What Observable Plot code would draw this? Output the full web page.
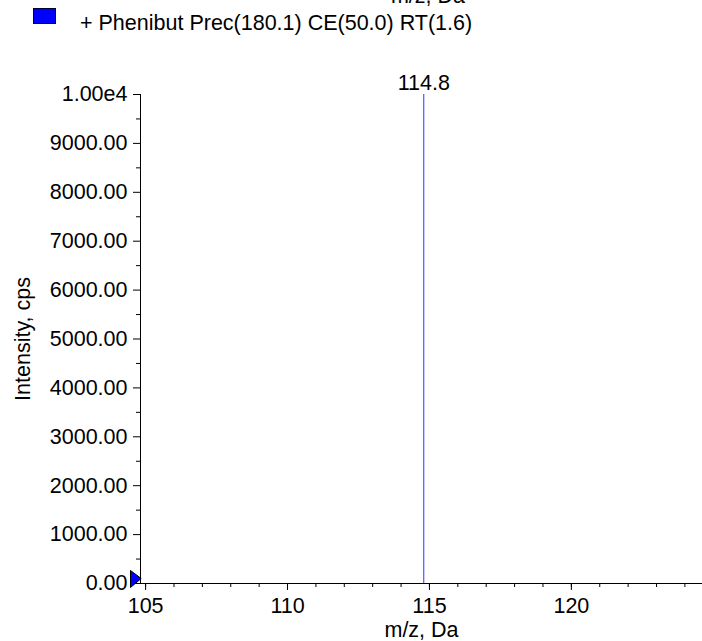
<!DOCTYPE html>
<html>
<head>
<meta charset="utf-8">
<script src="https://cdn.jsdelivr.net/npm/d3@7"></script>
<script src="https://cdn.jsdelivr.net/npm/@observablehq/plot@0.6"></script>
<style>
  html, body { margin: 0; padding: 0; background: #fff; }
  #chart { position: relative; width: 702px; height: 641px; overflow: hidden; }
</style>
</head>
<body>
<div id="chart"></div>
<script>
// ---- data ----
const peakMz = [114.8];
const peakIntensity = [10000];
const peakLabels = ["114.8"];
const xDomain = [104.82, 124.62];
const yDomain = [0, 10000];
const xMajorTicks = [105, 110, 115, 120];
const xMinorTicks = [105,106,107,108,109,110,111,112,113,114,115,116,117,118,119,120,121,122,123,124];
const yMajorTicks = [0,1000,2000,3000,4000,5000,6000,7000,8000,9000,10000];
const yMajorLabels = ["0.00","1000.00","2000.00","3000.00","4000.00","5000.00","6000.00","7000.00","8000.00","9000.00","1.00e4"];
const yMinorTicks = [500,1500,2500,3500,4500,5500,6500,7500,8500,9500];
const xLabel = "m/z, Da";
const yLabel = "Intensity, cps";
const legendText = "+ Phenibut Prec(180.1) CE(50.0) RT(1.6)";

const peaks = peakMz.map((mz, i) => ({mz, intensity: peakIntensity[i], label: peakLabels[i]}));
const threshold = [{mz: xDomain[0], intensity: 0}];

const triRight = {
  draw(ctx) {
    ctx.moveTo(-10, -13);
    ctx.lineTo(0.7, -5);
    ctx.lineTo(-10, 4);
    ctx.closePath();
  }
};

const FONT = "'Liberation Sans', Arial, sans-serif";
const FS = 21.5;

const plot = Plot.plot({
  width: 702,
  height: 641,
  marginLeft: 140,
  marginRight: 0,
  marginTop: 94,
  marginBottom: 58,
  style: {fontFamily: FONT, fontSize: FS + "px", color: "#000", background: "#fff", overflow: "visible"},
  x: {domain: xDomain, label: null},
  y: {domain: yDomain, label: null},
  marks: [
    Plot.axisX({ticks: xMinorTicks, tickSize: 4, text: null, label: null}),
    Plot.axisX({ticks: xMajorTicks, tickSize: 7, tickPadding: 7, tickFormat: d => String(d), label: null, fontSize: FS}),
    Plot.axisY({ticks: yMinorTicks, tickSize: 4, text: null, label: null}),
    Plot.axisY({ticks: yMajorTicks, tickSize: 7, tickPadding: 6, label: null, fontSize: FS,
      tickFormat: d => yMajorLabels[yMajorTicks.indexOf(d)]}),
    Plot.ruleY([0], {stroke: "#000"}),
    Plot.ruleX([xDomain[0]], {y1: yDomain[0], y2: yDomain[1], stroke: "#000"}),
    Plot.ruleX(peaks, {x: "mz", y1: 0, y2: "intensity", stroke: "#3333ff", strokeWidth: 1}),
    Plot.text(peaks, {x: "mz", y: "intensity", text: "label", lineAnchor: "middle", dy: -11, fontSize: FS, fill: "#000"}),
    Plot.dot(threshold, {x: "mz", y: "intensity", symbol: triRight, fill: "#0000ff", stroke: "#000", strokeWidth: 1}),
    Plot.text([xLabel], {frameAnchor: "bottom", lineAnchor: "middle", textAnchor: "middle", dy: 47, fontSize: FS, fill: "#000"}),
    Plot.text([yLabel], {frameAnchor: "left", lineAnchor: "middle", textAnchor: "middle", rotate: -90, dx: -117, fontSize: FS, fill: "#000"})
  ]
});

document.getElementById("chart").appendChild(plot);

// legend (above the plot area)
const svg = d3.select(plot);
const leg = svg.append("g").attr("font-family", FONT).attr("font-size", FS).attr("fill", "#000");
leg.append("text").attr("x", 428).attr("y", 3).attr("text-anchor", "middle").text(xLabel);
leg.append("rect").attr("x", 33.5).attr("y", 8.5).attr("width", 22).attr("height", 15)
  .attr("fill", "#0000ff").attr("stroke", "#000033").attr("stroke-width", 1);
leg.append("text").attr("x", 80).attr("y", 30).attr("text-anchor", "start").text(legendText);
</script>
</body>
</html>
